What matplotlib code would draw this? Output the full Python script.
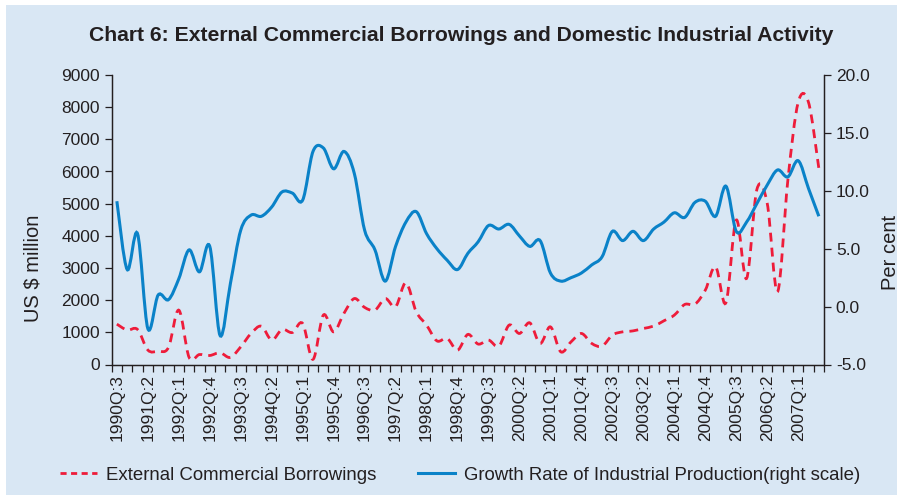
import matplotlib
matplotlib.use('Agg')
import matplotlib.pyplot as plt
from matplotlib.path import Path
from matplotlib.patches import PathPatch, Rectangle
from matplotlib.lines import Line2D

plt.rcParams['font.family'] = ['Liberation Sans', 'DejaVu Sans']

# Quarterly data, 1990Q:3 .. 2007Q:3
ecb = [1255, 1070, 1090, 450, 415, 530, 1690, 220, 310, 280,
       365, 220, 550, 965, 1190, 760, 1090, 995, 1275, 160,
       1535, 1015, 1590, 2050, 1775, 1690, 2050, 1795, 2540, 1640,
       1225, 735, 810, 445, 935, 635, 760, 570, 1225, 965,
       1295, 655, 1170, 395, 705, 965, 655, 570, 915, 1015,
       1045, 1120, 1195, 1360, 1535, 1865, 1875, 2310, 3040, 1920,
       4490, 2675, 5445, 5010, 2260, 5735, 8150, 8150, 6100]
iip = [9.1, 3.2, 6.3, -1.9, 1.0, 0.6, 2.4, 4.9, 3.0, 5.2,
       -2.5, 2.0, 6.6, 7.9, 7.8, 8.6, 9.9, 9.8, 9.2, 13.4,
       13.7, 11.9, 13.4, 11.5, 6.6, 4.9, 2.2, 5.2, 7.3, 8.2,
       6.3, 5.0, 4.0, 3.2, 4.6, 5.6, 7.0, 6.7, 7.1, 6.1,
       5.2, 5.7, 2.9, 2.2, 2.5, 2.9, 3.6, 4.3, 6.5, 5.7,
       6.5, 5.7, 6.7, 7.3, 8.1, 7.7, 9.0, 9.1, 7.8, 10.4,
       6.5, 7.3, 8.9, 10.5, 11.8, 11.2, 12.6, 10.2, 7.8]
tick_labels = ['1990Q:3', '1991Q:2', '1992Q:1', '1992Q:4', '1993Q:3', '1994Q:2',
               '1995Q:1', '1995Q:4', '1996Q:3', '1997Q:2', '1998Q:1', '1998Q:4',
               '1999Q:3', '2000Q:2', '2001Q:1', '2001Q:4', '2002Q:3', '2003Q:2',
               '2004Q:1', '2004Q:4', '2005Q:3', '2006Q:2', '2007Q:1']

RED = '#ee1c3a'
BLUE = '#0a82c8'
BG = '#d9e7f4'
INK = '#231f20'


def smooth_path(xs, ys):
    # bezier segments like a spreadsheet "smoothed line"
    n = len(xs)
    verts = [(xs[0], ys[0])]
    codes = [Path.MOVETO]
    for i in range(n - 1):
        a = max(i - 1, 0)
        b = min(i + 2, n - 1)
        c1 = (xs[i] + (xs[i + 1] - xs[a]) / 6, ys[i] + (ys[i + 1] - ys[a]) / 6)
        c2 = (xs[i + 1] - (xs[b] - xs[i]) / 6, ys[i + 1] - (ys[b] - ys[i]) / 6)
        verts += [c1, c2, (xs[i + 1], ys[i + 1])]
        codes += [Path.CURVE4] * 3
    return Path(verts, codes)


fig = plt.figure(figsize=(9.02, 5.0), dpi=100)
fig.patches.append(Rectangle((6 / 902, 5 / 500), 891 / 902, 490 / 500,
                             transform=fig.transFigure, facecolor=BG,
                             edgecolor='none', zorder=-10))

ax1 = fig.add_axes([111.7 / 902, 1 - 364.5 / 500, (824 - 111.7) / 902, (364.5 - 75) / 500])
ax1.set_facecolor(BG)
ax2 = ax1.twinx()

x = list(range(len(ecb)))
ax1.add_patch(PathPatch(smooth_path(x, ecb), fill=False, edgecolor=RED,
                        lw=2.0, linestyle=(0, (3.2, 2.2)), capstyle='butt'))
ax2.add_patch(PathPatch(smooth_path(x, iip), fill=False, edgecolor=BLUE, lw=2.2))

ax1.set_xlim(-0.5, len(ecb) - 0.5)
ax1.set_ylim(0, 9000)
ax2.set_ylim(-5, 20)
ax1.set_yticks(range(0, 9001, 1000))
ax2.set_yticks([-5, 0, 5, 10, 15, 20])
ax2.set_yticklabels(['%.1f' % v for v in [-5, 0, 5, 10, 15, 20]])

ax1.set_xticks(range(0, len(ecb), 3))
ax1.set_xticklabels(tick_labels, rotation=90)
ax1.set_xticks([i - 0.5 for i in range(len(ecb) + 1)], minor=True)
ax1.tick_params(axis='x', which='major', length=0, pad=7)
ax1.tick_params(axis='x', which='minor', length=5, width=0.9, color=INK)

for ax in (ax1, ax2):
    ax.tick_params(axis='y', length=5, width=0.9, color=INK, labelsize=12.5, labelcolor=INK)
    ax.tick_params(axis='x', labelsize=12.5, labelcolor=INK)
    ax.spines['top'].set_visible(False)
    for s in ('left', 'right', 'bottom'):
        ax.spines[s].set_color(INK)
        ax.spines[s].set_linewidth(0.9)

# axis titles sit a little below the middle of the plot
fig.text(33 / 902, 1 - 268 / 500, 'US $ million', rotation=90, ha='center', va='center',
         fontsize=14.5, color=INK)
fig.text(890 / 902, 1 - 252 / 500, 'Per cent', rotation=90, ha='center', va='center',
         fontsize=14.5, color=INK)

fig.text(461 / 902, 1 - 35 / 500, 'Chart 6: External Commercial Borrowings and Domestic Industrial Activity',
         ha='center', va='center', fontsize=15.2, fontweight='bold', color=INK)

handles = [Line2D([], [], color=RED, lw=2.0, linestyle=(0, (2.2, 1.6))),
           Line2D([], [], color=BLUE, lw=2.2)]
fig.legend(handles, ['External Commercial Borrowings',
                     'Growth Rate of Industrial Production(right scale)'],
           loc='center', bbox_to_anchor=(460 / 902, 1 - 475 / 500), ncol=2, frameon=False,
           fontsize=13.4, handlelength=2.0, handletextpad=0.5, columnspacing=2.2,
           labelcolor=INK)

fig.savefig('out.png', dpi=100)
